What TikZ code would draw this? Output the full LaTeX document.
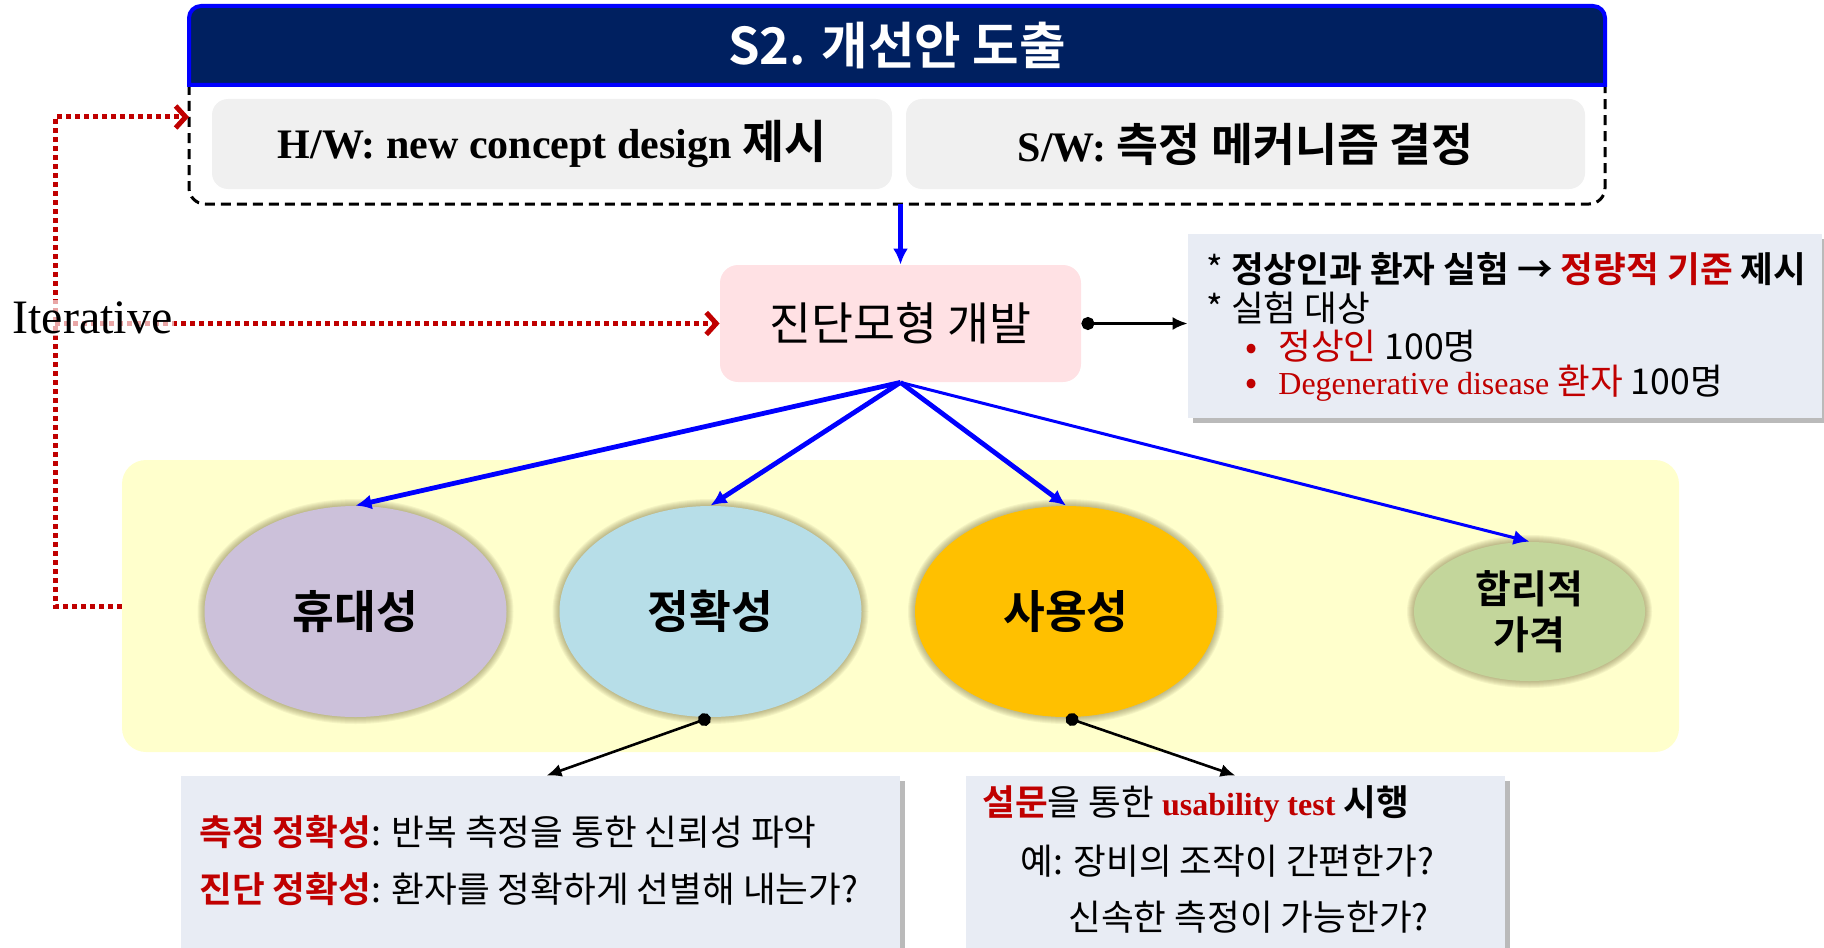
\documentclass[tikz,border=0pt]{standalone}
\usepackage{fontspec}
\setmainfont{Liberation Serif}
\newfontfamily\kr{Noto Sans CJK KR}[BoldFont={Noto Sans CJK KR Bold}]
\usetikzlibrary{shapes.geometric,arrows.meta,shadows}
\definecolor{navy}{HTML}{002060}
\definecolor{hdrblue}{HTML}{0000FF}
\definecolor{boxgray}{HTML}{F0F0F0}
\definecolor{pinkbox}{HTML}{FFE1E4}
\definecolor{ylw}{HTML}{FFFFCC}
\definecolor{lav}{HTML}{CCC1DA}
\definecolor{lblue}{HTML}{B7DEE8}
\definecolor{orng}{HTML}{FFC000}
\definecolor{grn}{HTML}{C3D69B}
\definecolor{infobg}{HTML}{E8ECF4}
\definecolor{dred}{HTML}{C00000}
\definecolor{halo}{HTML}{6B6235}
\begin{document}
\begin{tikzpicture}[x=0.5pt,y=-0.5pt,
  hwbox/.style={fill=boxgray, rounded corners=8pt, minimum height=45pt, inner sep=0pt, font=\fontsize{21}{25}\selectfont\bfseries},
  ell/.style={ellipse, inner sep=0pt, font=\kr\bfseries\fontsize{22.7}{26}\selectfont},
  infobox/.style={fill=infobg, inner sep=0pt, drop shadow={shadow xshift=2.5pt, shadow yshift=-2.5pt, opacity=0.45, fill=black!60}},
  txt/.style={anchor=west, inner sep=0pt, font=\kr\fontsize{17.8}{21}\selectfont},
  barrow/.style={draw=blue, line width=2.4pt, -{Latex[length=8pt,width=7.5pt]}},
  karrow/.style={draw=black, line width=1.3pt, {Circle[length=6.5pt]}-{Latex[length=7.5pt,width=6.5pt]}},
  reddot/.style={draw=dred, line width=2.5pt, dash pattern=on 2.5pt off 2pt},
  redtip/.style={-{Straight Barb[length=5pt,width=11pt]}}
]
\useasboundingbox (0,0) rectangle (1824,947);

% top frame
\node[minimum width=708pt, minimum height=99pt, inner sep=0pt] (frame) at (897,105) {};
\draw[line width=1.5pt, dash pattern=on 5pt off 3pt, rounded corners=8pt] (189,85) -- (189,204) -- (1605,204) -- (1605,85);
\filldraw[fill=navy, draw=hdrblue, line width=2pt] (189,85) [rounded corners=6pt] -- (189,6) -- (1605,6) [sharp corners] -- (1605,85) -- cycle;
\node[text=white, font=\kr\bfseries\fontsize{25.3}{29}\selectfont] (title) at (897,46) {S2. 개선안 도출};
\node[hwbox, minimum width=340pt] (hw) at (552,144) {H/W: new concept design {\kr\fontsize{22.8}{26}\selectfont 제시}};
\node[hwbox, minimum width=339.5pt] (sw) at (1245.5,144) {S/W: {\kr\fontsize{22.8}{26}\selectfont 측정 메커니즘 결정}};

% model
\node[fill=pinkbox, rounded corners=9pt, minimum width=180.5pt, minimum height=58.5pt, inner sep=0pt, font=\kr\fontsize{22.8}{26}\selectfont] (model) at (900.5,323.5) {진단모형 개발};
\draw[barrow] (frame.south -| model.north) -- (model.north);

% yellow area
\node[fill=ylw, rounded corners=12pt, minimum width=778.5pt, minimum height=146pt, inner sep=0pt] (yellow) at (900.5,606) {};

% halos
\foreach \cx/\cy/\rx/\ry in {355.5/611.5/75.5/52.75, 710.5/611.5/75.5/52.75, 1066/611.5/75.5/52.75, 1529.5/611.5/57.75/34.75}{
  \foreach \d in {0.5,1,...,3.5}{
    \fill[halo, opacity=0.07] (\cx,\cy) ellipse [x radius={(\rx+\d)*1pt}, y radius={(\ry+\d)*1pt}];
  }
}
\node[ell, fill=lav, minimum width=151pt, minimum height=105.5pt] (e1) at (355.5,611.5) {휴대성};
\node[ell, fill=lblue, minimum width=151pt, minimum height=105.5pt] (e2) at (710.5,611.5) {정확성};
\node[ell, fill=orng, minimum width=151pt, minimum height=105.5pt] (e3) at (1066,611.5) {사용성};
\node[ell, fill=grn, minimum width=115.5pt, minimum height=69.5pt, align=center, font=\kr\bfseries\fontsize{19.5}{23}\selectfont] (e4) at (1529.5,611.5) {합리적\\가격};

% blue arrows
\draw[barrow] (model.south) -- (e1.north);
\draw[barrow] (model.south) -- (e2.north);
\draw[barrow] (model.south) -- (e3.north);
\draw[barrow, line width=1.5pt] (model.south) -- (e4.north);

% iterative
\coordinate (jn) at (55,323.5);
\coordinate (tl) at (55,117);
\coordinate (hwin) at (189,117);
\coordinate (bl) at (55,606);
\draw[reddot,redtip] (yellow.west) -- (bl) -- (tl) -- (hwin);
\draw[reddot,redtip] (jn) -- (model.west);
\node[fill=white, fill opacity=0.65, text opacity=1, inner sep=1pt, font=\fontsize{24}{28}\selectfont] (iter) at (92.5,318) {Iterative};

% info box top right
\node[infobox, minimum width=317pt, minimum height=92pt] (info1) at (1505,326) {};
\draw[karrow] (model.east) -- (model.east -| info1.west);
\node[txt] (i1) at (1206,269) {{\mdseries *} \bfseries 정상인과 환자 실험 → \textcolor{dred}{정량적 기준} 제시};
\node[txt] (i2) at (1206,308) {* 실험 대상};
\node[txt] (i3) at (1245,346) {\textcolor{dred}{\makebox[16.5pt][l]{•}정상인} 100명};
\node[txt] (i4) at (1245,383) {\textcolor{dred}{\makebox[16.5pt][l]{•}{\rmfamily\fontsize{16}{20}\selectfont Degenerative disease} 환자} 100명};

% bottom boxes
\node[infobox, minimum width=359.5pt, minimum height=89.5pt] (accbox) at (540.5,865.5) {};
\node[infobox, minimum width=269.5pt, minimum height=89.5pt] (usebox) at (1235.5,865.5) {};
\draw[karrow] (e2.south) -- ([xshift=3pt]accbox.north);
\draw[karrow] (e3.south) -- (usebox.north);
\node[txt] (a1) at (199,832) {\textcolor{dred}{\bfseries 측정 정확성}: 반복 측정을 통한 신뢰성 파악};
\node[txt] (a2) at (199,889) {\textcolor{dred}{\bfseries 진단 정확성}: 환자를 정확하게 선별해 내는가?};
\node[txt] (u1) at (982,804) {\textcolor{dred}{\bfseries 설문}을 통한 \textcolor{dred}{\rmfamily\bfseries\fontsize{16}{20}\selectfont usability test} {\bfseries 시행}};
\node[txt] (u2) at (1020,861) {예: 장비의 조작이 간편한가?};
\node[txt] (u3) at (1068,917) {신속한 측정이 가능한가?};
\end{tikzpicture}
\end{document}
